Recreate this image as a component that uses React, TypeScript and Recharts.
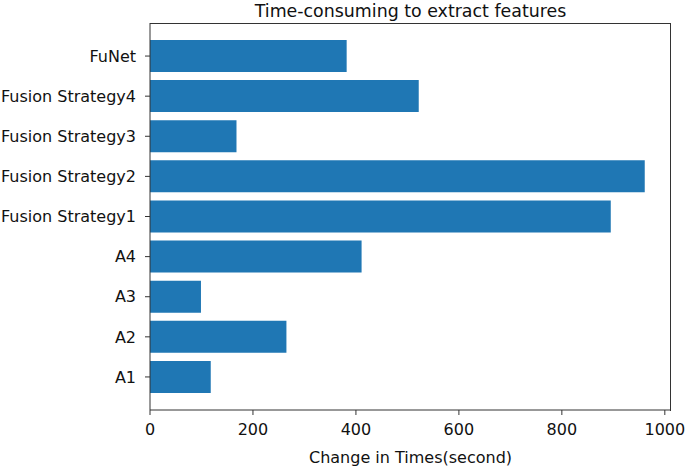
import React from "react";
import { BarChart, Bar, XAxis, YAxis, Label } from "recharts";

const categories = [
  "FuNet",
  "Fusion Strategy4",
  "Fusion Strategy3",
  "Fusion Strategy2",
  "Fusion Strategy1",
  "A4",
  "A3",
  "A2",
  "A1",
];
const times = [382, 522, 168, 961, 895, 411, 99, 265, 118];
const xTicks = [0, 200, 400, 600, 800, 1000];

const data = categories.map((name, i) => ({ name, time: times[i] }));

const font = "DejaVu Sans, sans-serif";
const axisColor = "#333";

export default function App() {
  return (
    <div style={{ position: "absolute", left: 0, top: 0, width: 685, height: 466, background: "#fff" }}>
      <div
        style={{
          position: "absolute",
          top: 0,
          left: 150,
          width: 521,
          textAlign: "center",
          fontFamily: font,
          fontSize: 17.4,
          color: "#111",
          lineHeight: "22px",
        }}
      >
        Time-consuming to extract features
      </div>
      <BarChart
        width={685}
        height={466}
        data={data}
        layout="vertical"
        margin={{ top: 23, right: 14, bottom: 0, left: 0 }}
        barCategoryGap="10%"
      >
        <XAxis
          type="number"
          domain={[0, 1012]}
          ticks={xTicks}
          allowDataOverflow
          height={56}
          tickSize={5}
          tickMargin={9}
          stroke={axisColor}
          tick={{ fill: "#111", fontFamily: font, fontSize: 16 }}
        >
          <Label
            value="Change in Times(second)"
            position="insideBottom"
            offset={3}
            style={{ fill: "#111", fontFamily: font, fontSize: 16 }}
          />
        </XAxis>
        <YAxis
          type="category"
          dataKey="name"
          width={150}
          padding={{ top: 13, bottom: 13 }}
          tickSize={5}
          tickMargin={9}
          interval={0}
          stroke={axisColor}
          tick={{ fill: "#111", fontFamily: font, fontSize: 16 }}
        />
        <Bar dataKey="time" fill="#1f77b4" isAnimationActive={false} />
      </BarChart>
      <div
        style={{
          position: "absolute",
          left: 150,
          top: 23,
          width: 521,
          height: 388,
          boxSizing: "border-box",
          borderTop: `1px solid ${axisColor}`,
          borderRight: `1px solid ${axisColor}`,
          pointerEvents: "none",
        }}
      />
    </div>
  );
}
